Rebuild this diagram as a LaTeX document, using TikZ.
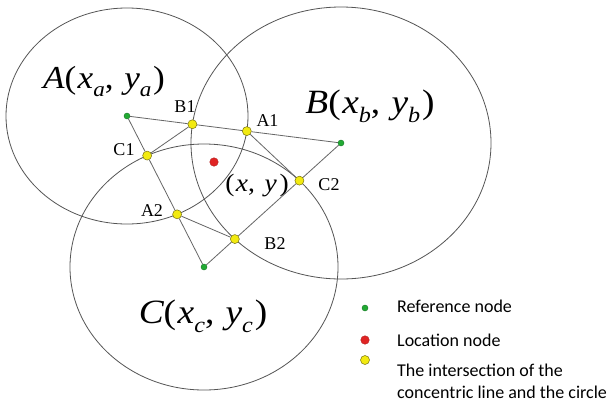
\documentclass[tikz,border=0pt]{standalone}
\usepackage{fontspec}
\setmainfont{Liberation Serif}
\newfontfamily\legfont{Carlito}
\usetikzlibrary{intersections}
\definecolor{ringcol}{HTML}{555555}
\definecolor{segcol}{HTML}{666666}
\definecolor{gfill}{HTML}{22AA33}
\definecolor{gdraw}{HTML}{117722}
\definecolor{yfill}{HTML}{F2EA10}
\definecolor{ydraw}{HTML}{7A7410}
\definecolor{rfill}{HTML}{E02424}
\newcommand\ptlab[4]{{\fontsize{#3}{#3}\selectfont\itshape #1\upshape(\kern0.04em\itshape x\raisebox{-0.28em}{\fontsize{#4}{#4}\selectfont #2}\upshape,\kern0.3em\itshape y\raisebox{-0.28em}{\fontsize{#4}{#4}\selectfont #2}\upshape\kern0.05em)}}
\begin{document}
\begin{tikzpicture}[x=1pt,y=-1pt,
  ring/.style={draw=ringcol, line width=0.8pt},
  seg/.style={draw=segcol, line width=0.8pt},
  gdot/.style={circle, fill=gfill, draw=gdraw, line width=0.4pt, inner sep=0pt, minimum size=6pt},
  ydot/.style={circle, fill=yfill, draw=ydraw, line width=0.5pt, inner sep=0pt, minimum size=9pt},
  rdot/.style={circle, fill=rfill, draw=rfill!80!black, line width=0.4pt, inner sep=0pt, minimum size=8.5pt},
  ptname/.style={inner sep=0pt, anchor=base, font=\fontsize{18}{18}\selectfont},
  biglab/.style={inner sep=0pt, anchor=base},
  legtext/.style={inner sep=0pt, anchor=base west, font=\legfont\fontsize{18}{18}\selectfont}
]
\useasboundingbox (0,0) rectangle (611,405);
\fill[white] (0,0) rectangle (611,405);
% centres
\coordinate (pA) at (127,116);
\coordinate (pB) at (341,143);
\coordinate (pC) at (204,267);
% circles
\draw[ring, name path=cA] (pA) ellipse [x radius=121pt, y radius=108pt];
\draw[ring, name path=cB] (pB) ellipse [x radius=150pt, y radius=136pt];
\draw[ring, name path=cC] (pC) ellipse [x radius=134pt, y radius=123pt];
% helper lines
\path[name path=lAB] (pA) -- (pB);
\path[name path=lAC] (pA) -- (pC);
\path[name path=lBC] (pB) -- (pC);
\path[name intersections={of=lAB and cB, by=iB1}];
\path[name intersections={of=lAB and cA, by=iA1}];
\path[name intersections={of=lAC and cC, by=iC1}];
\path[name intersections={of=lAC and cA, by=iA2}];
\path[name intersections={of=lBC and cC, by=iC2}];
\path[name intersections={of=lBC and cB, by=iB2}];
% dots
\node[gdot] (gA) at (pA) {};
\node[gdot] (gB) at (pB) {};
\node[gdot] (gC) at (pC) {};
\node[ydot] (b1) at (iB1) {};
\node[ydot] (a1) at (iA1) {};
\node[ydot] (c1) at (iC1) {};
\node[ydot] (a2) at (iA2) {};
\node[ydot] (c2) at (iC2) {};
\node[ydot] (b2) at (iB2) {};
\node[rdot] (loc) at (214,162) {};
% connectors
\draw[seg] (gA) -- (b1);
\draw[seg] (b1) -- (a1);
\draw[seg] (a1) -- (gB);
\draw[seg] (gA) -- (c1);
\draw[seg] (c1) -- (a2);
\draw[seg] (a2) -- (gC);
\draw[seg] (gB) -- (c2);
\draw[seg] (c2) -- (b2);
\draw[seg] (b2) -- (gC);
\draw[seg] (c1) -- (b1);
\draw[seg] (a1) -- (c2);
\draw[seg] (a2) -- (b2);
% point names
\node[ptname] (tB1) at (185,112.5) {B1};
\node[ptname] (tA1) at (267.5,126.5) {A1};
\node[ptname] (tC1) at (124,155) {C1};
\node[ptname] (tA2) at (152,216) {A2};
\node[ptname] (tC2) at (329,190) {C2};
\node[ptname] (tB2) at (275,249) {B2};
% big labels
\node[biglab] (labA) at (104,88) {\scalebox{1.1}[1]{\ptlab{A}{a}{32}{21}}};
\node[biglab] (labB) at (370,113) {\scalebox{1.1}[1]{\ptlab{B}{b}{34}{22}}};
\node[biglab] (labC) at (203,323) {\scalebox{1.1}[1]{\ptlab{C}{c}{34}{22}}};
\node[biglab] (labXY) at (257,191) {\scalebox{1.1}[1]{\fontsize{25}{25}\selectfont(\kern0.05em\textit{x},\kern0.35em\textit{y}\kern0.1em)}};
% legend
\node[gdot, minimum size=6pt] (lg) at (365,308) {};
\node[rdot] (lr) at (365,340) {};
\node[ydot] (ly) at (365,360) {};
\node[legtext] (tg) at (397,312.5) {Reference node};
\node[legtext] (tr) at (397,346.5) {Location node};
\node[legtext] (ty) at (397,376.5) {The intersection of the};
\node[legtext] (ty2) at (397,398.2) {concentric line and the circle};
\end{tikzpicture}
\end{document}
